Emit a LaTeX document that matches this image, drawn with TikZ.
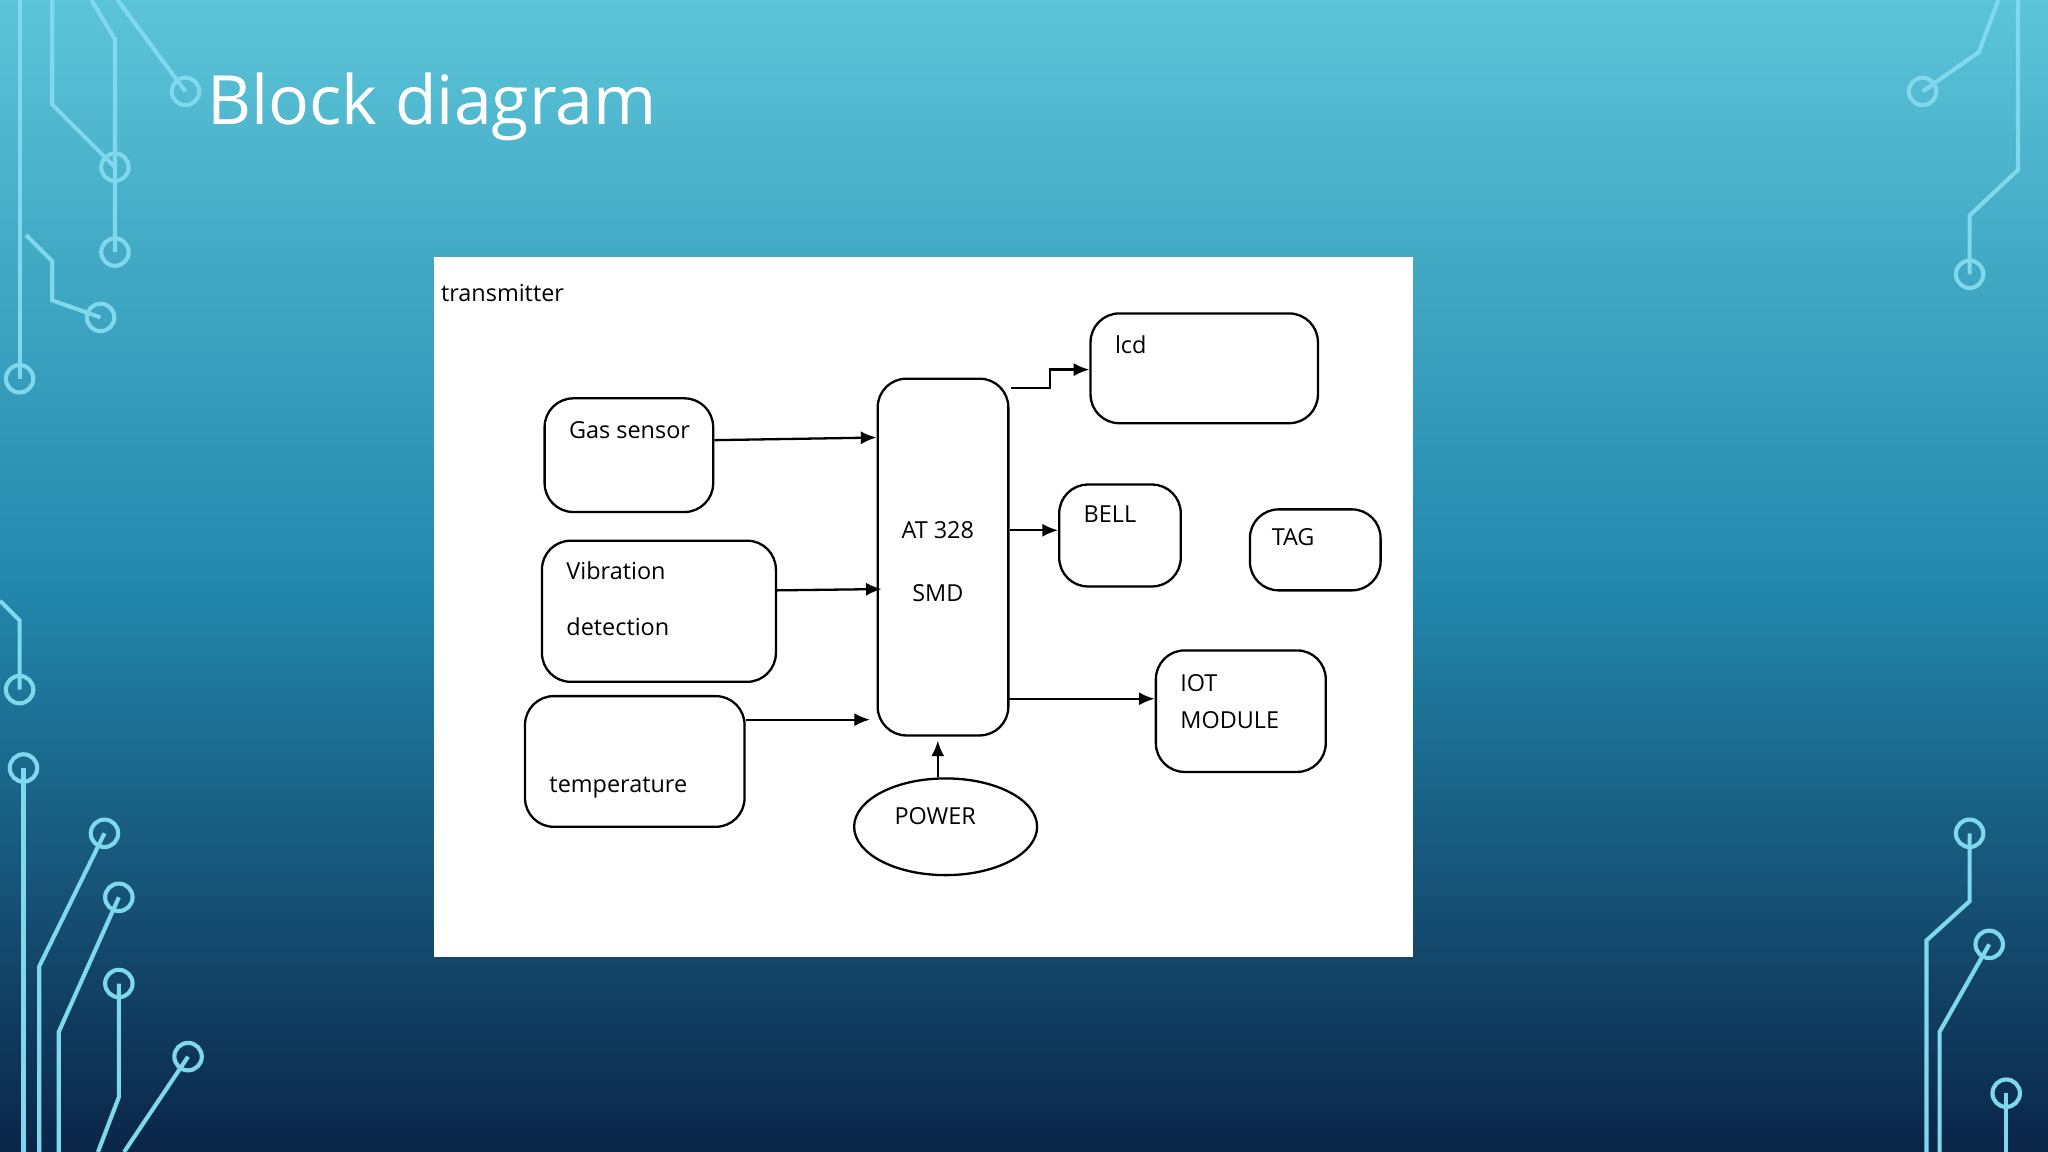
\documentclass[tikz,border=0pt]{standalone}
\usepackage{fontspec}
\setmainfont{Open Sans}
\usetikzlibrary{arrows.meta,shapes.geometric}
\definecolor{bgtop}{HTML}{5CC4D8}
\definecolor{bgmid}{HTML}{2389AE}
\definecolor{bgbot}{HTML}{0A2548}
\definecolor{trace}{HTML}{7FD8EC}
\tikzset{
  blk/.style={draw, rounded corners=2.2mm, line width=0.5pt, inner sep=0pt},
  lbl/.style={font=\fontsize{5.1}{6.5}\selectfont, anchor=west, inner sep=0pt},
  arr/.style={-{Latex[length=1.2mm,width=1mm]}, line width=0.5pt},
  trc/.style={trace, line width=0.9pt},
  pad/.style={circle, draw=trace, line width=0.9pt, inner sep=0pt, minimum size=2.1mm}
}
\begin{document}
\begin{tikzpicture}[x=0.01cm,y=-0.01cm]
\useasboundingbox (0,0) rectangle (1568,882);
\shade[top color=bgtop, bottom color=bgbot, middle color=bgmid] (0,0) rectangle (1568,882);
%-- circuit traces
\draw[trc] (15,0) -- (15,290); \node[pad] (p1) at (15,290) {};
\draw[trc] (40,0) -- (40,80) -- (88,128); \node[pad] (p2) at (88,128) {};
\draw[trc] (70,0) -- (88,30) -- (88,193); \node[pad] (p3) at (88,193) {};
\draw[trc] (90,0) -- (142,70); \node[pad] (p4) at (142,70) {};
\draw[trc] (20,180) -- (40,200) -- (40,230) -- (77,243); \node[pad] (p5) at (77,243) {};
\draw[trc] (0,460) -- (15,475) -- (15,528); \node[pad] (p6) at (15,528) {};
\draw[trc] (18,882) -- (18,588); \node[pad] (p7) at (18,588) {};
\draw[trc] (30,882) -- (30,740) -- (80,638); \node[pad] (p8) at (80,638) {};
\draw[trc] (45,882) -- (45,790) -- (91,687); \node[pad] (p9) at (91,687) {};
\draw[trc] (75,882) -- (91,840) -- (91,753); \node[pad] (p10) at (91,753) {};
\draw[trc] (95,882) -- (144,809); \node[pad] (p11) at (144,809) {};
\draw[trc] (1530,0) -- (1515,40) -- (1472,70); \node[pad] (p12) at (1472,70) {};
\draw[trc] (1545,0) -- (1545,130) -- (1508,165) -- (1508,210); \node[pad] (p13) at (1508,210) {};
\draw[trc] (1475,882) -- (1475,720) -- (1508,690) -- (1508,638); \node[pad] (p14) at (1508,638) {};
\draw[trc] (1485,882) -- (1485,790) -- (1523,723); \node[pad] (p15) at (1523,723) {};
\draw[trc] (1536,882) -- (1536,837); \node[pad] (p16) at (1536,837) {};
%-- title
\node[white, anchor=west, inner sep=0pt, font=\fontsize{14.8}{18}\selectfont] (title) at (158,82) {Block diagram};
%-- diagram panel
\fill[white] (332,197) rectangle (1082,733);
\node[lbl] (tx) at (337,224) {transmitter};
\node[blk, minimum width=1.29cm, minimum height=0.87cm] (gas) at (481.5,348.5) {};
\node[blk, minimum width=1.79cm, minimum height=1.08cm] (vib) at (504.5,468) {};
\node[blk, minimum width=1.68cm, minimum height=1.00cm] (temp) at (486,583) {};
\node[blk, minimum width=1.00cm, minimum height=2.73cm] (mcu) at (722,426.5) {};
\node[blk, minimum width=1.74cm, minimum height=0.84cm] (lcd) at (922,282) {};
\node[blk, minimum width=0.93cm, minimum height=0.78cm] (bell) at (857.5,410) {};
\node[blk, minimum width=1.00cm, minimum height=0.62cm] (tag) at (1007,421) {};
\node[blk, minimum width=1.30cm, minimum height=0.93cm] (iot) at (950,544.5) {};
\node[draw, ellipse, line width=0.5pt, inner sep=0pt, minimum width=1.40cm, minimum height=0.74cm] (pow) at (724,633) {};
%--
\node[lbl] at (435,329) {Gas sensor};
\node[lbl] at (433,437) {Vibration};
\node[lbl] at (433,480) {detection};
\node[lbl] at (420,603) {temperature};
\node[lbl, anchor=center] at (718,406) {AT 328};
\node[lbl, anchor=center] at (718,454) {SMD};
\node[lbl] at (853,264) {lcd};
\node[lbl] at (829,394) {BELL};
\node[lbl] at (973,411) {TAG};
\node[lbl] at (903,523) {IOT};
\node[lbl] at (903,551) {MODULE};
\node[lbl, anchor=center] at (716,625) {POWER};
%-- connectors
\draw[arr] (gas.east |- 0,337) -- (mcu.west |- 0,335);
\draw[arr] (vib.east |- 0,452) -- ([xshift=0.04cm]mcu.west |- 0,451);
\draw[arr] (temp.east |- 0,551) -- ([xshift=-0.05cm]mcu.west |- 0,551);
\draw[arr] (mcu.east |- 0,406) -- (bell.west |- 0,406);
\draw[arr] ([xshift=-0.02cm]mcu.east |- 0,535) -- (iot.west |- 0,535);
\draw[arr] (pow.north -| 718,0) -- ([yshift=-0.03cm]mcu.south -| 718,0);
\draw[arr] ([xshift=0.01cm]mcu.east |- 0,297) -- (804,297) -- (804,283) -- (lcd.west |- 0,283);
\end{tikzpicture}
\end{document}
